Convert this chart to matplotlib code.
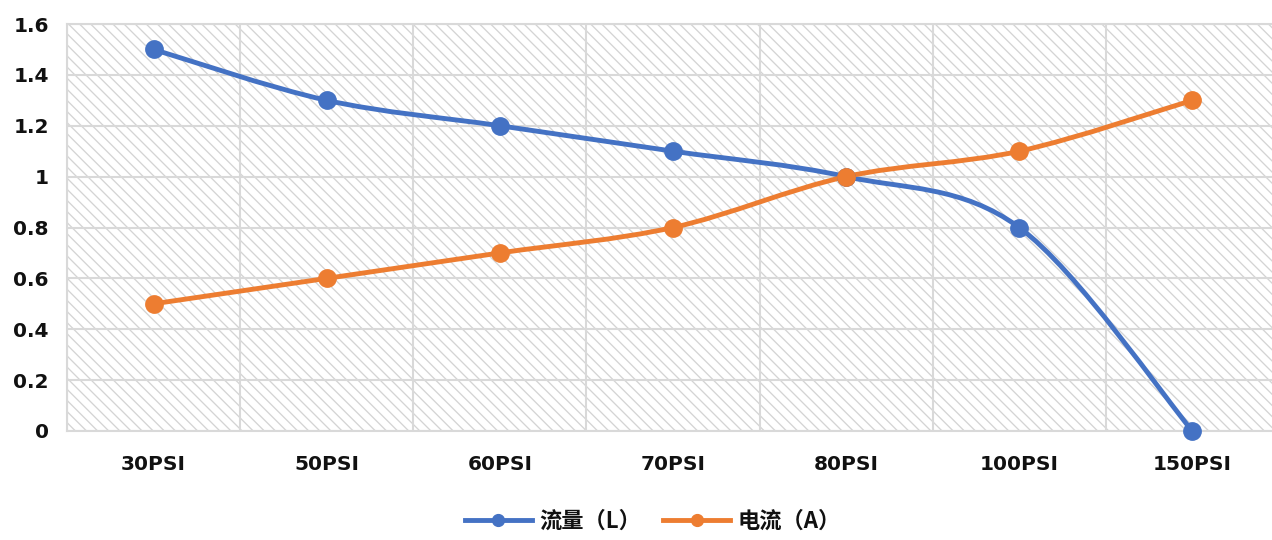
import matplotlib
matplotlib.use("Agg")
import matplotlib.pyplot as plt
from matplotlib.path import Path
from matplotlib.patches import PathPatch
from matplotlib.lines import Line2D

plt.rcParams['font.family'] = ['Noto Sans CJK SC', 'DejaVu Sans']
plt.rcParams['hatch.color'] = '#d4d4d4'
plt.rcParams['hatch.linewidth'] = 0.95

categories = ['30PSI', '50PSI', '60PSI', '70PSI', '80PSI', '100PSI', '150PSI']
flow = [1.5, 1.3, 1.2, 1.1, 1.0, 0.8, 0.0]
current = [0.5, 0.6, 0.7, 0.8, 1.0, 1.1, 1.3]
series_names = ['流量（L）', '电流（A）']
colors = ['#4472C4', '#ED7D31']
yticks = [0, 0.2, 0.4, 0.6, 0.8, 1.0, 1.2, 1.4, 1.6]
ytick_labels = ['0', '0.2', '0.4', '0.6', '0.8', '1', '1.2', '1.4', '1.6']

W, H, DPI = 1272, 540, 100
fig = plt.figure(figsize=(W / DPI, H / DPI), dpi=DPI)
left, right, top, bottom = 67, 1279, 24, 431
ax = fig.add_axes([left / W, (H - bottom) / H, (right - left) / W, (bottom - top) / H])
ax.patch.set_facecolor('white')
ax.patch.set_hatch('\\\\\\')
ax.patch.set_edgecolor('#d4d4d4')


def smooth_path(xs, ys):
    pts = list(zip(xs, ys))
    verts = [pts[0]]
    codes = [Path.MOVETO]
    n = len(pts)
    for i in range(n - 1):
        p0 = pts[i - 1] if i > 0 else pts[i]
        p1 = pts[i]
        p2 = pts[i + 1]
        p3 = pts[i + 2] if i + 2 < n else pts[i + 1]
        c1 = (p1[0] + (p2[0] - p0[0]) / 6, p1[1] + (p2[1] - p0[1]) / 6)
        c2 = (p2[0] - (p3[0] - p1[0]) / 6, p2[1] - (p3[1] - p1[1]) / 6)
        verts += [c1, c2, p2]
        codes += [Path.CURVE4] * 3
    return Path(verts, codes)


xs = list(range(len(categories)))
handles = []
for vals, col, name in zip([flow, current], colors, series_names):
    patch = PathPatch(smooth_path(xs, vals), fill=False, edgecolor=col,
                      linewidth=3.5, capstyle='round', joinstyle='round', zorder=3)
    ax.add_patch(patch)
    ax.plot(xs, vals, linestyle='none', marker='o', markersize=12.5,
            markeredgewidth=1.0, color=col, zorder=4, clip_on=False)
    handles.append(Line2D([], [], color=col, linewidth=3.5, marker='o',
                          markersize=8.5, label=name))

ax.set_xlim(-0.5, len(categories) - 0.5)
ax.set_ylim(0, 1.6)
ax.set_yticks(yticks)
ax.set_yticklabels(ytick_labels)
ax.set_xticks(xs)
ax.set_xticklabels(categories)
ax.set_xticks([x + 0.5 for x in range(-1, len(categories))], minor=True)
ax.grid(True, which='minor', axis='x', color='#d9d9d9', linewidth=1.5)
ax.grid(True, which='major', axis='y', color='#d9d9d9', linewidth=1.5)
ax.set_axisbelow(True)
ax.tick_params(axis='both', which='both', length=0)
ax.tick_params(axis='x', pad=17)
ax.tick_params(axis='y', pad=13)
for lab in ax.get_xticklabels() + ax.get_yticklabels():
    lab.set_fontsize(14.5)
    lab.set_fontweight('bold')
    lab.set_family(['DejaVu Sans', 'Noto Sans CJK SC'])
    lab.set_color('#111111')
for s in ax.spines.values():
    s.set_color('#d9d9d9')
    s.set_linewidth(1.5)

leg = fig.legend(handles=handles, loc='center', bbox_to_anchor=(653 / W, 1 - 521 / H),
                 ncol=2, frameon=False, handlelength=3.0, columnspacing=1.0,
                 handletextpad=0.35, prop={'size': 16, 'weight': 'bold'})
for t in leg.get_texts():
    t.set_color('#111111')

fig.savefig('out.png', dpi=DPI)
